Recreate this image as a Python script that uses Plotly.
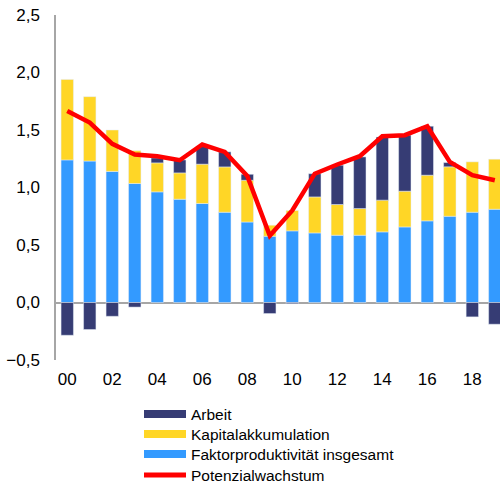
import plotly.graph_objects as go

years = list(range(2000, 2020))
tick_years = years[::2]
tick_labels = ["00", "02", "04", "06", "08", "10", "12", "14", "16", "18"]

faktor = [1.24, 1.23, 1.14, 1.035, 0.962, 0.898, 0.861, 0.785, 0.70, 0.576,
          0.623, 0.605, 0.585, 0.585, 0.614, 0.657, 0.71, 0.75, 0.785, 0.811]
kapital = [0.70, 0.56, 0.36, 0.285, 0.252, 0.229, 0.342, 0.394, 0.363, 0.096,
           0.177, 0.313, 0.267, 0.232, 0.276, 0.311, 0.397, 0.43, 0.438, 0.435]
arbeit = [-0.285, -0.235, -0.12, -0.04, 0.043, 0.113, 0.157, 0.131, 0.052, -0.096,
          -0.01, 0.202, 0.342, 0.449, 0.55, 0.487, 0.426, 0.037, -0.125, -0.189]
potenzial = [1.666, 1.565, 1.38, 1.287, 1.272, 1.237, 1.374, 1.31, 1.10, 0.58,
             0.80, 1.12, 1.20, 1.272, 1.446, 1.455, 1.533, 1.223, 1.107, 1.063]

names = ["Arbeit", "Kapitalakkumulation", "Faktorproduktivität insgesamt", "Potenzialwachstum"]
C_ARB = "#363C74"
C_KAP = "#FFD626"
C_FAK = "#339AFF"
C_POT = "#FF0000"

W, H = 500, 483
ML, MR, MT, MB = 56, 0, 15, 123
PW, PH = W - ML - MR, H - MT - MB


def px_x(px):
    return (px - ML) / PW


def px_y(py):
    return (H - MB - py) / PH


fig = go.Figure()
fig.add_trace(go.Bar(x=years, y=faktor, marker_color=C_FAK, width=0.55, name=names[2]))
fig.add_trace(go.Bar(x=years, y=kapital, marker_color=C_KAP, width=0.55, name=names[1]))
fig.add_trace(go.Bar(x=years, y=arbeit, marker_color=C_ARB, width=0.55, name=names[0]))
fig.add_trace(go.Scatter(x=years, y=potenzial, mode="lines", line=dict(color=C_POT, width=4.5),
                         name=names[3]))

# legend (drawn below the plot)
legend_items = [(names[0], C_ARB, 8), (names[1], C_KAP, 8), (names[2], C_FAK, 8), (names[3], C_POT, 5)]
row_y = [414, 434, 454, 475]
for (nm, col, w), py in zip(legend_items, row_y):
    fig.add_shape(type="line", xref="paper", yref="paper",
                  x0=px_x(144), x1=px_x(186), y0=px_y(py), y1=px_y(py),
                  line=dict(color=col, width=w))
    fig.add_annotation(xref="paper", yref="paper", x=px_x(189), y=px_y(py),
                       xanchor="left", yanchor="middle", text=nm, showarrow=False,
                       font=dict(size=15.5, color="#000"))

fig.update_layout(
    width=W, height=H,
    margin=dict(l=ML, r=MR, t=MT, b=MB, autoexpand=False),
    barmode="relative",
    showlegend=False,
    plot_bgcolor="white", paper_bgcolor="white",
    font=dict(family="Liberation Sans, Arial, sans-serif", size=17, color="#000"),
    xaxis=dict(range=[1999.5, 2019.23], tickvals=tick_years, ticktext=tick_labels,
               showgrid=False, showline=False, zeroline=False, ticks="", ticklabelstandoff=7,
               automargin=False),
    yaxis=dict(range=[-0.5, 2.5], dtick=0.5, tickformat=".1f", showgrid=False,
               showline=True, linecolor="#A6A6A6", linewidth=1.5,
               zeroline=True, zerolinecolor="#A6A6A6", zerolinewidth=1.5,
               ticks="", ticklabelstandoff=11, automargin=False),
    separators=",.",
)

fig.write_html("out.html", config={"displayModeBar": False},
               post_script="document.body.style.margin='0';")
